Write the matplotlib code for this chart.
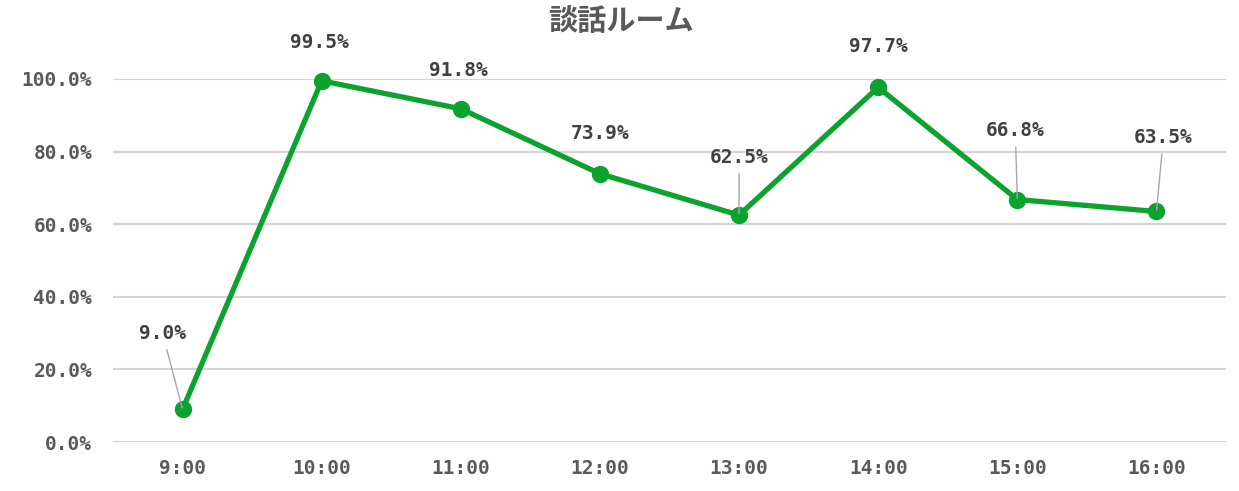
import matplotlib
matplotlib.use("Agg")
import matplotlib.pyplot as plt
from matplotlib.ticker import FuncFormatter

categories = ["9:00", "10:00", "11:00", "12:00", "13:00", "14:00", "15:00", "16:00"]
values = [9.0, 99.5, 91.8, 73.9, 62.5, 97.7, 66.8, 63.5]
yticks = [0, 20, 40, 60, 80, 100]
title = "談話ルーム"

# label offsets in pixels (dx, dy) and whether a leader line is drawn
label_offsets = [(-20, 76), (-2, 38), (-2, 38), (0, 40), (0, 58), (0, 41), (-2, 69), (7, 74)]
leaders = [True, False, False, False, True, False, True, True]

GREEN = "#0BA32E"
TXT = "#595959"
LBL = "#404040"
num_font = ["DejaVu Sans Mono"]

fig = plt.figure(figsize=(12.39, 4.91), dpi=100)
ax = fig.add_axes([113/1239, 1-442/491, (1226-113)/1239, (442-79)/491])

x = list(range(len(categories)))
ax.plot(x, values, color=GREEN, lw=3.8, marker="o", ms=11.5, zorder=3, clip_on=False,
        solid_joinstyle="round")

for i, v in enumerate(values):
    dx, dy = label_offsets[i]
    kw = {}
    if leaders[i]:
        kw["arrowprops"] = dict(arrowstyle="-", color="#A6A6A6", lw=1.0, shrinkA=3, shrinkB=1)
    ax.annotate(f"{v:.1f}%", xy=(i, v), xytext=(dx*0.72, dy*0.72), textcoords="offset points",
                ha="center", va="center", fontsize=14, fontweight="bold", color=LBL,
                family=num_font, annotation_clip=False, **kw)

ax.set_xlim(-0.5, len(categories)-0.5)
ax.set_ylim(0, 100)
ax.set_yticks(yticks)
ax.yaxis.set_major_formatter(FuncFormatter(lambda v, p: f"{v:.1f}%"))
ax.set_xticks(x)
ax.set_xticklabels(categories)
ax.grid(axis="y", color="#D4D4D4", lw=1.5, zorder=0)
ax.set_axisbelow(True)
for s in ax.spines.values():
    s.set_visible(False)
ax.tick_params(length=0, labelsize=14, labelcolor=TXT)
ax.tick_params(axis="y", pad=15)
ax.tick_params(axis="x", pad=12)
for lab in ax.get_xticklabels() + ax.get_yticklabels():
    lab.set_family(num_font)
    lab.set_fontweight("bold")

fig.text(621/1239, 1-21/491, title, ha="center", va="center",
         fontsize=21, fontweight="bold", color=TXT, family=["Noto Sans CJK JP", "DejaVu Sans"])

fig.savefig("out.png", dpi=100)
